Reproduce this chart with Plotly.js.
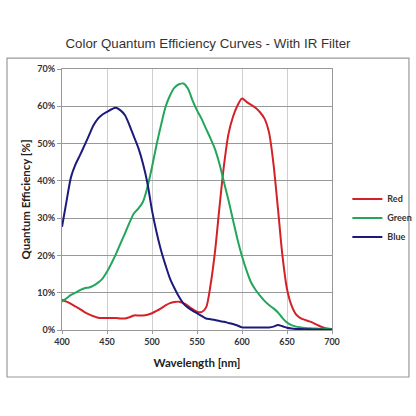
<!DOCTYPE html>
<html><head><meta charset="utf-8">
<script src="https://cdn.plot.ly/plotly-3.0.1.min.js"></script>
<style>html,body{margin:0;padding:0;background:#fff}#c{width:416px;height:416px}</style>
</head><body><div id="c"></div>
<script>
const wavelength = [400,405,410,415,420,425,430,435,440,445,450,455,460,465,470,475,480,485,490,495,500,505,510,515,520,525,530,535,540,545,550,555,560,565,570,575,580,585,590,595,600,605,610,615,620,625,630,635,640,645,650,655,660,665,670,675,680,685,690,695,700];
const redQE = [8.1,7.6,7.0,6.3,5.6,4.8,4.2,3.7,3.3,3.2,3.2,3.2,3.2,3.1,3.1,3.4,3.9,3.9,3.9,4.1,4.5,5.1,5.8,6.6,7.2,7.5,7.6,7.2,6.5,5.6,4.9,4.8,6.0,12.0,21.0,33.0,44.2,52.6,57.2,60.2,62.1,61.2,60.4,59.6,58.4,56.7,53.0,44.5,32.4,19.8,11.0,6.6,4.2,3.2,2.7,2.3,1.8,1.2,0.7,0.4,0.3];
const greenQE = [7.6,8.5,9.4,10.0,10.7,11.2,11.4,11.9,12.7,13.8,15.6,17.9,20.4,23.2,25.9,28.8,31.3,32.6,34.4,38.4,43.7,49.6,54.9,59.8,62.9,65.0,65.9,66.1,64.7,61.6,58.9,56.7,54.0,51.4,48.5,44.5,39.6,34.8,29.5,24.3,19.8,16.0,12.8,10.8,9.2,7.8,6.7,5.8,4.7,3.2,2.0,1.3,0.9,0.7,0.55,0.45,0.4,0.35,0.3,0.25,0.2];
const blueQE = [27.7,34.5,41.0,44.4,46.9,49.5,52.2,54.9,56.7,57.8,58.5,59.2,59.6,58.9,57.6,54.9,51.8,48.7,44.6,39.3,32.1,26.3,21.4,17.4,13.8,11.2,8.9,7.1,6.0,5.2,4.5,3.8,3.1,2.9,2.7,2.4,2.2,1.9,1.6,1.2,0.7,0.7,0.7,0.7,0.7,0.7,0.7,0.9,1.35,1.0,0.6,0.4,0.3,0.25,0.2,0.18,0.15,0.12,0.1,0.1,0.1];
const seriesNames = ["Red","Green","Blue"];
const seriesColors = ["#d42027","#22a65a","#1c1a7a"];
const xTicks = [400,450,500,550,600,650,700];
const yTicks = [0,10,20,30,40,50,60,70];
const yTickLabels = ["0%","10%","20%","30%","40%","50%","60%","70%"];

const data = [redQE, greenQE, blueQE].map((ys, i) => ({
  x: wavelength, y: ys, type: 'scatter', mode: 'lines', name: seriesNames[i],
  line: {color: seriesColors[i], width: 2, shape: 'spline', smoothing: 0.8}
}));

const tickFont = {family: 'Lato, "Liberation Sans", sans-serif', size: 9, color: '#333', weight: 'bold'};
const layout = {
  width: 416, height: 416,
  margin: {l: 62, r: 84, t: 69, b: 86},
  paper_bgcolor: '#fff', plot_bgcolor: '#fff',
  title: {text: 'Color Quantum Efficiency Curves - With IR Filter', x: 0.5, xanchor: 'center', y: 0.895, yanchor: 'middle',
          font: {family: '"Liberation Sans", Arial, sans-serif', size: 13.3, color: '#333'}},
  xaxis: {range: [400, 700], tickvals: xTicks, ticktext: xTicks.map(String), tickfont: tickFont,
          showgrid: true, gridcolor: '#cfcfcf', gridwidth: 1, zeroline: false,
          showline: true, linecolor: '#999', mirror: true, ticks: 'outside', ticklen: 3, tickcolor: '#999',
          title: {text: 'Wavelength [nm]', standoff: 13, font: {family: 'Lato, "Liberation Sans", sans-serif', size: 11.5, color: '#222', weight: 'bold'}}},
  yaxis: {range: [0, 70], tickvals: yTicks, ticktext: yTickLabels, tickfont: tickFont,
          showgrid: true, gridcolor: '#999', gridwidth: 1, zeroline: false,
          showline: true, linecolor: '#999', mirror: true, ticks: 'outside', ticklen: 4, tickcolor: '#999',
          title: {text: 'Quantum Efficiency [%]', standoff: 4, font: {family: 'Lato, "Liberation Sans", sans-serif', size: 11.5, color: '#222', weight: 'bold'}}},
  legend: {xref: 'container', yref: 'container', x: 0.835, xanchor: 'left', y: 0.476, yanchor: 'middle', bgcolor: 'rgba(0,0,0,0)',
           itemwidth: 30, tracegroupgap: 0,
           font: {family: 'Lato, "Liberation Sans", sans-serif', size: 9, color: '#333', weight: 'bold'}},
  shapes: [{type: 'rect', xref: 'paper', yref: 'paper', x0: -0.2037, x1: 1.285, y0: -0.18, y1: 1.042,
            line: {color: '#999', width: 1.2}, fillcolor: 'rgba(0,0,0,0)', layer: 'below'}],
  showlegend: true
};
Plotly.newPlot('c', data, layout, {displayModeBar: false, staticPlot: true});
</script></body></html>
